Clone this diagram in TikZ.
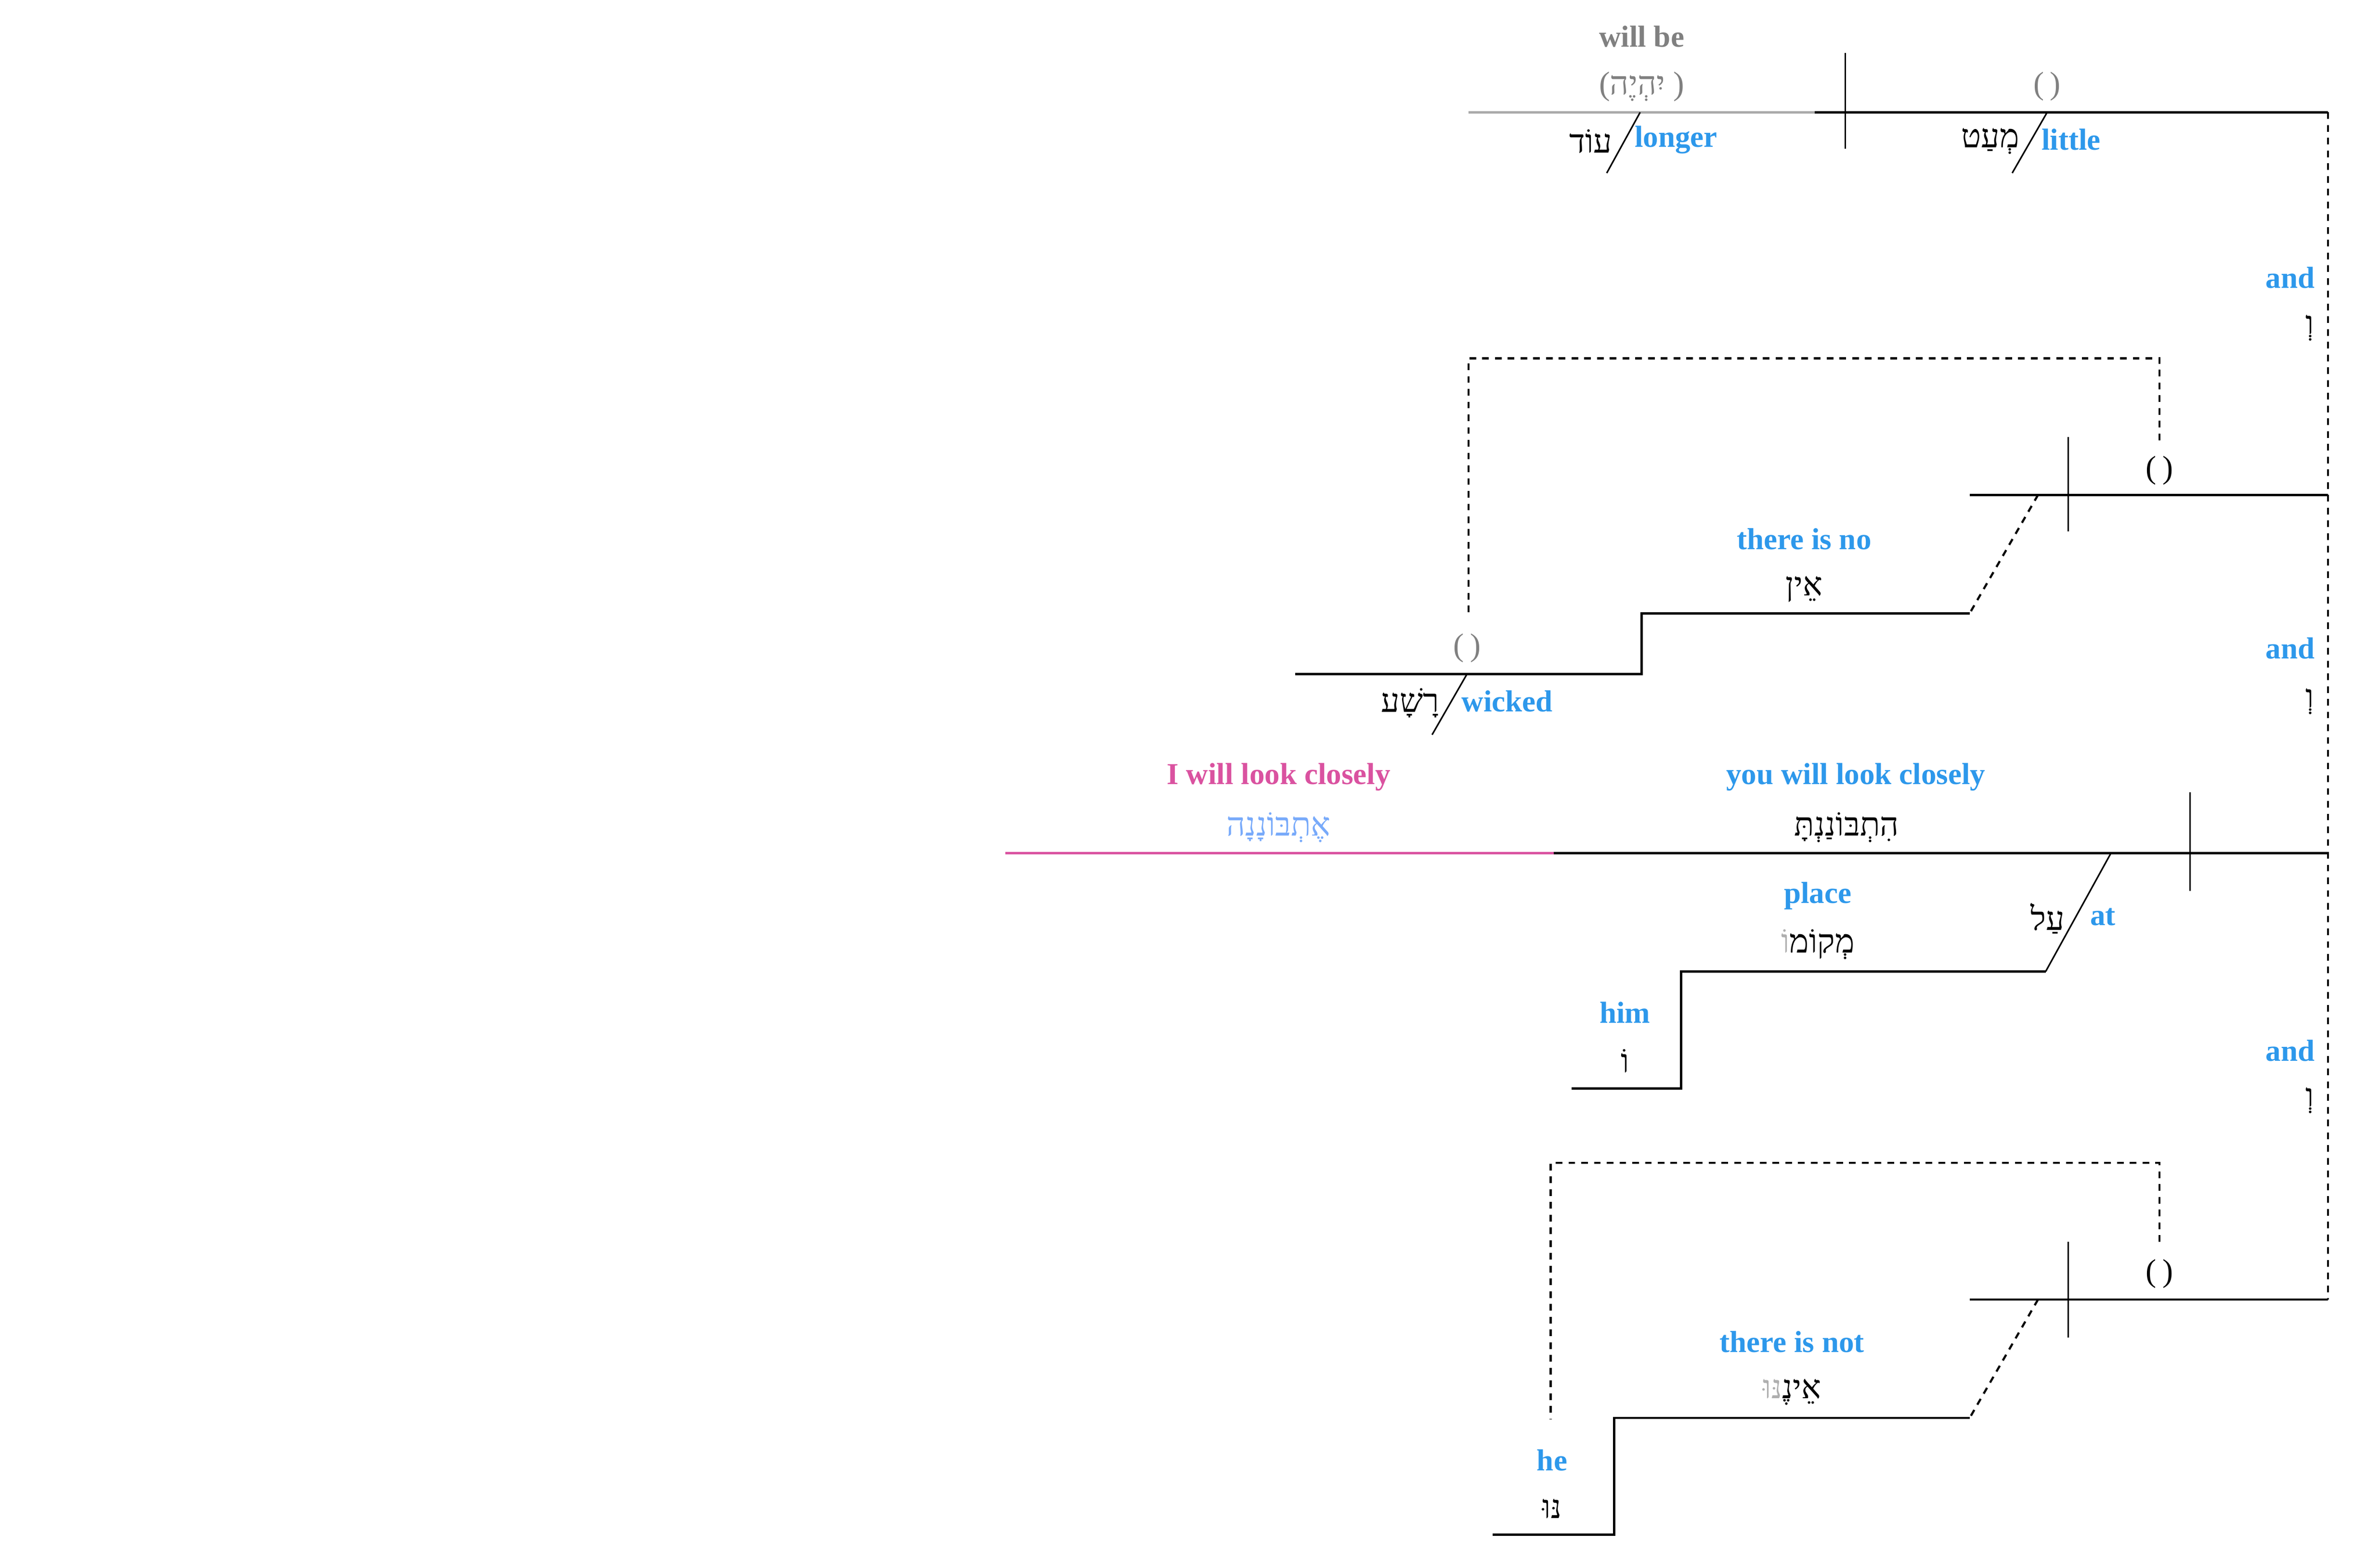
\documentclass[tikz,border=0pt]{standalone}
\usepackage{fontspec}
\setmainfont{Liberation Serif}
\newfontfamily\heb[Script=Hebrew]{Liberation Serif}
\TeXXeTstate=1
\definecolor{eng}{RGB}{45,152,235}
\definecolor{pinkc}{RGB}{218,82,160}
\definecolor{lblue}{RGB}{120,170,250}
\definecolor{gtext}{RGB}{128,128,128}
\definecolor{gline}{RGB}{170,170,170}
\definecolor{lgray}{RGB}{175,175,175}
\begin{document}
\begin{tikzpicture}[x=0.5pt,y=-0.5pt,
  en/.style={font=\bfseries\fontsize{10}{12}\selectfont, text=eng, inner sep=0pt},
  hb/.style={font=\heb\fontsize{10.8}{12}\selectfont, inner sep=0pt},
  par/.style={font=\rmfamily\fontsize{10.5}{12}\selectfont, inner sep=0pt},
  baseline/.style={line width=0.75pt},
  thinl/.style={line width=0.5pt},
  dashline/.style={line width=0.7pt, dash pattern=on 2.2pt off 2pt}]
\useasboundingbox (0,0) rectangle (1567.2,1026);

% ---------- coordinates ----------
\coordinate (g1) at (967,74);
\coordinate (g2) at (1195,74);
\coordinate (r1) at (1533,74);
\coordinate (d1t) at (1215,35);
\coordinate (d1b) at (1215,98);
\coordinate (s1t) at (1080,74);
\coordinate (s1b) at (1058,114);
\coordinate (s2t) at (1348,74);
\coordinate (s2b) at (1325,114);

\coordinate (r2) at (1533,326);
\coordinate (c2l) at (1297,326);
\coordinate (d2t) at (1362,288);
\coordinate (d2b) at (1362,350);
\coordinate (q2a) at (1422,290);
\coordinate (q2b) at (1422,236);
\coordinate (q2c) at (967,236);
\coordinate (q2d) at (967,405);
\coordinate (e2a) at (1342,326);
\coordinate (e2b) at (1297,404);
\coordinate (e2c) at (1081,404);
\coordinate (e2d) at (1081,444);
\coordinate (e2e) at (853,444);
\coordinate (w1) at (966,444);
\coordinate (w2) at (943,484);

\coordinate (r3) at (1533,562);
\coordinate (p1) at (662,562);
\coordinate (p2) at (1023,562);
\coordinate (d3t) at (1442,522);
\coordinate (d3b) at (1442,587);
\coordinate (a1) at (1390,562);
\coordinate (a2) at (1347,640);
\coordinate (a3) at (1107,640);
\coordinate (a4) at (1107,717);
\coordinate (a5) at (1035,717);

\coordinate (r4) at (1533,856);
\coordinate (c4l) at (1297,856);
\coordinate (d4t) at (1362,818);
\coordinate (d4b) at (1362,881);
\coordinate (q4a) at (1422,818);
\coordinate (q4b) at (1422,766);
\coordinate (q4c) at (1021,766);
\coordinate (q4d) at (1021,935);
\coordinate (e4a) at (1342,856);
\coordinate (e4b) at (1297,934);
\coordinate (e4c) at (1063,934);
\coordinate (e4d) at (1063,1011);
\coordinate (e4e) at (983,1011);

% ---------- lines ----------
\draw[baseline, gline] (g1) -- (g2);
\draw[baseline] (g2) -- (r1);
\draw[thinl] (d1t) -- (d1b);
\draw[thinl] (s1t) -- (s1b);
\draw[thinl] (s2t) -- (s2b);
\draw[dashline] (r1) -- (r4);

\draw[baseline] (c2l) -- (r2);
\draw[thinl] (d2t) -- (d2b);
\draw[dashline] (q2a) -- (q2b) -- (q2c) -- (q2d);
\draw[dashline] (e2a) -- (e2b);
\draw[baseline] (e2b) -- (e2c) -- (e2d) -- (e2e);
\draw[thinl] (w1) -- (w2);

\draw[baseline, pinkc] (p1) -- (p2);
\draw[baseline] (p2) -- (r3);
\draw[thinl] (d3t) -- (d3b);
\draw[thinl] (a1) -- (a2);
\draw[baseline] (a2) -- (a3) -- (a4) -- (a5);

\draw[baseline] (c4l) -- (r4);
\draw[thinl] (d4t) -- (d4b);
\draw[dashline] (q4a) -- (q4b) -- (q4c) -- (q4d);
\draw[dashline] (e4a) -- (e4b);
\draw[baseline] (e4b) -- (e4c) -- (e4d) -- (e4e);

% ---------- texts: top ----------
\node[en, text=gtext] (willbe) at (1081,24) {will be};
\node[hb, text=gtext] (yihye) at (1081,57) {{\rmfamily(}\beginR יִהְיֶה\endR\ {\rmfamily)}};
\node[par, text=gtext] (pa1) at (1348,57) {(\kern2pt)};
\node[hb, anchor=east] (od) at (1062,93) {\beginR עוֹד\endR};
\node[en, anchor=west] (longer) at (1076,92) {longer};
\node[hb, anchor=east] (meat) at (1330,93) {\beginR מְעַט\endR};
\node[en, anchor=west] (little) at (1344,92) {little};
\node[en] (and1) at (1508,183) {and};
\node[hb] (ve1) at (1521,216) {\beginR וְ\endR};

% ---------- section 2 ----------
\node[par] (pa2) at (1422,310) {(\kern2pt)};
\node[en] (thereisno) at (1188,355) {there is no};
\node[hb] (ein) at (1188,388) {\beginR אֵין\endR};
\node[par, text=gtext] (pa3) at (966,427) {(\kern2pt)};
\node[hb, anchor=east] (rasha) at (948,463) {\beginR רָשָׁע\endR};
\node[en, anchor=west] (wicked) at (962,462) {wicked};
\node[en] (and2) at (1508,427) {and};
\node[hb] (ve2) at (1521,462) {\beginR וְ\endR};

% ---------- section 3 ----------
\node[en, text=pinkc] (iwill) at (842,512) {I will look closely};
\node[hb, text=lblue] (etbonena) at (842,545) {\beginR אֶתְבּוֹנָנָה\endR};
\node[en] (youwill) at (1222,512) {you will look closely};
\node[hb] (hitbonanta) at (1216,545) {\beginR הִתְבּוֹנַנְתָּ\endR};
\node[hb, anchor=east] (al) at (1360,605) {\beginR עַל\endR};
\node[en, anchor=west] (at) at (1376,604) {at};
\node[en] (place) at (1197,590) {place};
\node[hb] (meqomo) at (1197,622) {{\color{lgray}\beginR וֹ\endR}\beginR מְקוֹמ\endR};
\node[en] (him) at (1070,667) {him};
\node[hb] (vav) at (1070,699) {\beginR וֹ\endR};
\node[en] (and3) at (1508,692) {and};
\node[hb] (ve3) at (1521,725) {\beginR וְ\endR};

% ---------- section 4 ----------
\node[par] (pa4) at (1422,839) {(\kern2pt)};
\node[en] (thereisnot) at (1180,884) {there is not};
\node[hb] (einenu) at (1180,917) {{\color{lgray}\beginR נּוּ\endR}\beginR אֵינֶ\endR};
\node[en] (he) at (1022,962) {he};
\node[hb] (nu) at (1022,994) {\beginR נּוּ\endR};
\end{tikzpicture}
\end{document}
